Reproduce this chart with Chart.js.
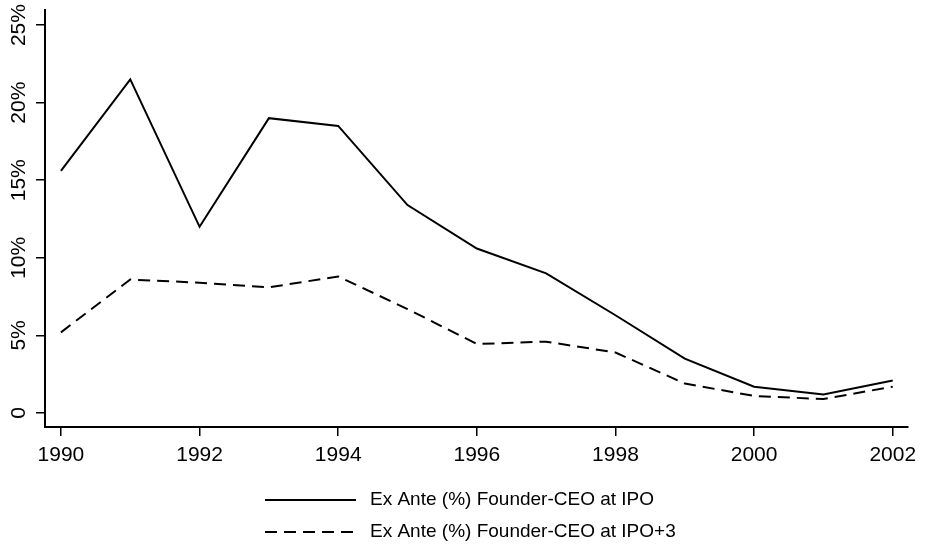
<!DOCTYPE html>
<html>
<head>
<meta charset="utf-8">
<script src="https://cdn.jsdelivr.net/npm/chart.js@4"></script>
<style>
  html, body { margin: 0; padding: 0; background: #fff; }
  #wrap { width: 928px; height: 546px; }
</style>
</head>
<body>
<div id="wrap"><canvas id="foundersChart" width="928" height="546"></canvas></div>
<script>
const years = [1990, 1991, 1992, 1993, 1994, 1995, 1996, 1997, 1998, 1999, 2000, 2001, 2002];
const atIpo = [15.6, 21.5, 12.0, 19.0, 18.5, 13.4, 10.6, 9.0, 6.3, 3.5, 1.7, 1.2, 2.1];
const atIpoPlus3 = [5.2, 8.6, 8.4, 8.1, 8.8, 6.7, 4.45, 4.6, 3.9, 1.9, 1.1, 0.9, 1.7];
const yearTicks = [1990, 1992, 1994, 1996, 1998, 2000, 2002];
const pctTicks = [0, 5, 10, 15, 20, 25];

const FONT = 'Liberation Sans, Arial, sans-serif';

// two-row legend under the plot + rotated y labels, drawn by hand
const extras = {
  id: 'extras',
  afterDraw(chart) {
    const ctx = chart.ctx;
    const ys = chart.scales.y;
    ctx.save();
    ctx.fillStyle = '#000';
    ctx.font = '21px ' + FONT;
    ctx.textAlign = 'center';
    ctx.textBaseline = 'middle';
    pctTicks.forEach(v => {
      ctx.save();
      ctx.translate(19, ys.getPixelForValue(v));
      ctx.rotate(-Math.PI / 2);
      ctx.fillText(v === 0 ? '0' : v + '%', 0, 0);
      ctx.restore();
    });

    ctx.strokeStyle = '#000';
    ctx.lineWidth = 2;
    ctx.font = '19px ' + FONT;
    ctx.textAlign = 'left';
    chart.data.datasets.forEach((ds, i) => {
      let y = 500 + i * 32;
      ctx.setLineDash(ds.borderDash || []);
      ctx.beginPath();
      ctx.moveTo(265, y);
      ctx.lineTo(356, y);
      ctx.stroke();
      ctx.fillText(ds.label, 370, y);
    });
    ctx.restore();
  }
};

new Chart(document.getElementById('foundersChart').getContext('2d'), {
  type: 'line',
  data: {
    datasets: [{
      label: 'Ex Ante (%) Founder-CEO at IPO',
      data: years.map((yr, i) => ({ x: yr, y: atIpo[i] })),
      borderColor: '#000',
      borderWidth: 2,
      pointRadius: 0,
      tension: 0
    }, {
      label: 'Ex Ante (%) Founder-CEO at IPO+3',
      data: years.map((yr, i) => ({ x: yr, y: atIpoPlus3[i] })),
      borderColor: '#000',
      borderWidth: 2,
      borderDash: [12, 7],
      pointRadius: 0,
      tension: 0
    }]
  },
  options: {
    responsive: false,
    animation: false,
    layout: { padding: { top: 10, right: 20 } },
    scales: {
      x: {
        type: 'linear',
        min: 1989.77,
        max: 2002.22,
        afterBuildTicks: s => { s.ticks = yearTicks.map(v => ({ value: v })); },
        afterFit: s => { s.height = 119; s.paddingLeft = 0; s.paddingRight = 0; },
        border: { display: true, color: '#000', width: 2 },
        grid: { display: true, drawOnChartArea: false, drawTicks: true, tickLength: 9, color: '#000', lineWidth: 1.5 },
        ticks: {
          color: '#000',
          maxRotation: 0,
          padding: 7,
          font: { family: FONT, size: 21 },
          callback: v => String(v)
        }
      },
      y: {
        min: -0.9,
        max: 25.97,
        afterBuildTicks: s => { s.ticks = pctTicks.map(v => ({ value: v })); },
        afterFit: s => { s.width = 45; s.paddingTop = 0; s.paddingBottom = 0; },
        border: { display: true, color: '#000', width: 2 },
        grid: { display: true, drawOnChartArea: false, drawTicks: true, tickLength: 9, color: '#000', lineWidth: 1.5 },
        ticks: { display: false }
      }
    },
    plugins: {
      legend: { display: false },
      tooltip: { enabled: false }
    }
  },
  plugins: [extras]
});
</script>
</body>
</html>
